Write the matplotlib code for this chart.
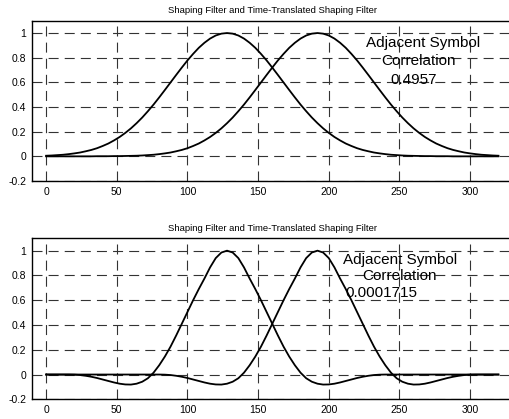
import matplotlib
matplotlib.use("Agg")
import matplotlib.pyplot as plt

plt.rcParams['font.family'] = ['Liberation Sans', 'DejaVu Sans']

# sample index (every 4th sample, 0..320)
n = [0, 4, 8, 12, 16, 20, 24, 28, 32, 36, 40, 44, 48, 52, 56, 60, 64, 68, 72, 76,
     80, 84, 88, 92, 96, 100, 104, 108, 112, 116, 120, 124, 128, 132, 136, 140, 144,
     148, 152, 156, 160, 164, 168, 172, 176, 180, 184, 188, 192, 196, 200, 204, 208,
     212, 216, 220, 224, 228, 232, 236, 240, 244, 248, 252, 256, 260, 264, 268, 272,
     276, 280, 284, 288, 292, 296, 300, 304, 308, 312, 316, 320]

# top panel: gaussian shaping filter and its time-translated copy
gauss_a = [0.005, 0.007, 0.010, 0.013, 0.018, 0.024, 0.031, 0.041, 0.052, 0.066,
           0.084, 0.104, 0.129, 0.157, 0.190, 0.227, 0.269, 0.315, 0.366, 0.420,
           0.478, 0.538, 0.599, 0.660, 0.720, 0.778, 0.831, 0.880, 0.921, 0.955,
           0.980, 0.995, 1.000, 0.995, 0.980, 0.955, 0.921, 0.880, 0.831, 0.778,
           0.720, 0.660, 0.599, 0.538, 0.478, 0.420, 0.366, 0.315, 0.269, 0.227,
           0.190, 0.157, 0.129, 0.104, 0.084, 0.066, 0.052, 0.041, 0.031, 0.024,
           0.018, 0.013, 0.010, 0.007, 0.005, 0.004, 0.003, 0.002, 0.002, 0.001,
           0.001, 0.001, 0.0, 0.0, 0.0, 0.0, 0.0, 0.0, 0.0, 0.0, 0.0]
gauss_b = [0.0, 0.0, 0.0, 0.0, 0.0, 0.0, 0.0, 0.0, 0.0, 0.001, 0.001, 0.001, 0.002,
           0.002, 0.003, 0.004, 0.005, 0.007, 0.010, 0.013, 0.018, 0.024, 0.031,
           0.041, 0.052, 0.066, 0.084, 0.104, 0.129, 0.157, 0.190, 0.227, 0.269,
           0.315, 0.366, 0.420, 0.478, 0.538, 0.599, 0.660, 0.720, 0.778, 0.831,
           0.880, 0.921, 0.955, 0.980, 0.995, 1.000, 0.995, 0.980, 0.955, 0.921,
           0.880, 0.831, 0.778, 0.720, 0.660, 0.599, 0.538, 0.478, 0.420, 0.366,
           0.315, 0.269, 0.227, 0.190, 0.157, 0.129, 0.104, 0.084, 0.066, 0.052,
           0.041, 0.031, 0.024, 0.018, 0.013, 0.010, 0.007, 0.005]

# bottom panel: shaping filter with side lobes and its time-translated copy
lobe_a = [0.0, 0.0, 0.0, 0.0, 0.0, -0.001, -0.004, -0.010, -0.018, -0.028, -0.040,
          -0.052, -0.064, -0.074, -0.080, -0.081, -0.074, -0.058, -0.030, 0.015,
          0.075, 0.145, 0.225, 0.315, 0.410, 0.505, 0.600, 0.690, 0.775, 0.865,
          0.940, 0.985, 1.000, 0.985, 0.940, 0.865, 0.775, 0.690, 0.600, 0.505,
          0.410, 0.315, 0.225, 0.145, 0.075, 0.015, -0.030, -0.058, -0.074, -0.081,
          -0.080, -0.074, -0.064, -0.052, -0.040, -0.028, -0.018, -0.010, -0.004,
          -0.001, 0.0, 0.0, 0.0, 0.0, 0.0, 0.0, 0.0, 0.0, 0.0, 0.0, 0.0, 0.0, 0.0,
          0.0, 0.0, 0.0, 0.0, 0.0, 0.0, 0.0, 0.0]
lobe_b = [0.0, 0.0, 0.0, 0.0, 0.0, 0.0, 0.0, 0.0, 0.0, 0.0, 0.0, 0.0, 0.0, 0.0, 0.0,
          0.0, 0.0, 0.0, 0.0, 0.0, 0.0, -0.001, -0.004, -0.010, -0.018, -0.028,
          -0.040, -0.052, -0.064, -0.074, -0.080, -0.081, -0.074, -0.058, -0.030,
          0.015, 0.075, 0.145, 0.225, 0.315, 0.410, 0.505, 0.600, 0.690, 0.775,
          0.865, 0.940, 0.985, 1.000, 0.985, 0.940, 0.865, 0.775, 0.690, 0.600,
          0.505, 0.410, 0.315, 0.225, 0.145, 0.075, 0.015, -0.030, -0.058, -0.074,
          -0.081, -0.080, -0.074, -0.064, -0.052, -0.040, -0.028, -0.018, -0.010,
          -0.004, -0.001, 0.0, 0.0, 0.0, 0.0, 0.0]

xticks = [0, 50, 100, 150, 200, 250, 300]
yticks = [-0.2, 0, 0.2, 0.4, 0.6, 0.8, 1]
ytick_labels = ['-0.2', '0', '0.2', '0.4', '0.6', '0.8', '1']
title = 'Shaping Filter and Time-Translated Shaping Filter'
corr_top = ['Adjacent Symbol', 'Correlation', '0.4957']
corr_bot = ['Adjacent Symbol', 'Correlation', '0.0001715']

fig = plt.figure(figsize=(5.09, 4.19), dpi=100)
ax1 = fig.add_axes([0.0629, 0.568, 0.944, 0.3826])
ax2 = fig.add_axes([0.0629, 0.047, 0.944, 0.3843])


def style(ax):
    ax.set_xlim(-10, 330)
    ax.set_ylim(-0.2, 1.1)
    ax.set_xticks(xticks)
    ax.set_yticks(yticks)
    ax.set_yticklabels(ytick_labels)
    ax.tick_params(labelsize=7.5, length=0, pad=4)
    ax.grid(True, color='0.2', linewidth=0.8, dashes=(9, 5.5))
    ax.set_axisbelow(True)
    ax.set_title(title, fontsize=6.8, pad=5.5)
    for s in ax.spines.values():
        s.set_linewidth(1.0)


style(ax1)
ax1.plot(n, gauss_a, color='black', linewidth=1.3)
ax1.plot(n, gauss_b, color='black', linewidth=1.3)
# annotation, one line at a time (left aligned like the original)
for txt, x, y in zip(corr_top, [226, 237, 243.5], [0.918, 0.777, 0.62]):
    ax1.text(x, y, txt, fontsize=11, ha='left', va='center')

style(ax2)
ax2.plot(n, lobe_a, color='black', linewidth=1.3)
ax2.plot(n, lobe_b, color='black', linewidth=1.3)
for txt, x, y in zip(corr_bot, [210, 224, 212], [0.923, 0.793, 0.658]):
    ax2.text(x, y, txt, fontsize=11, ha='left', va='center')

fig.savefig('out.png', dpi=100)
